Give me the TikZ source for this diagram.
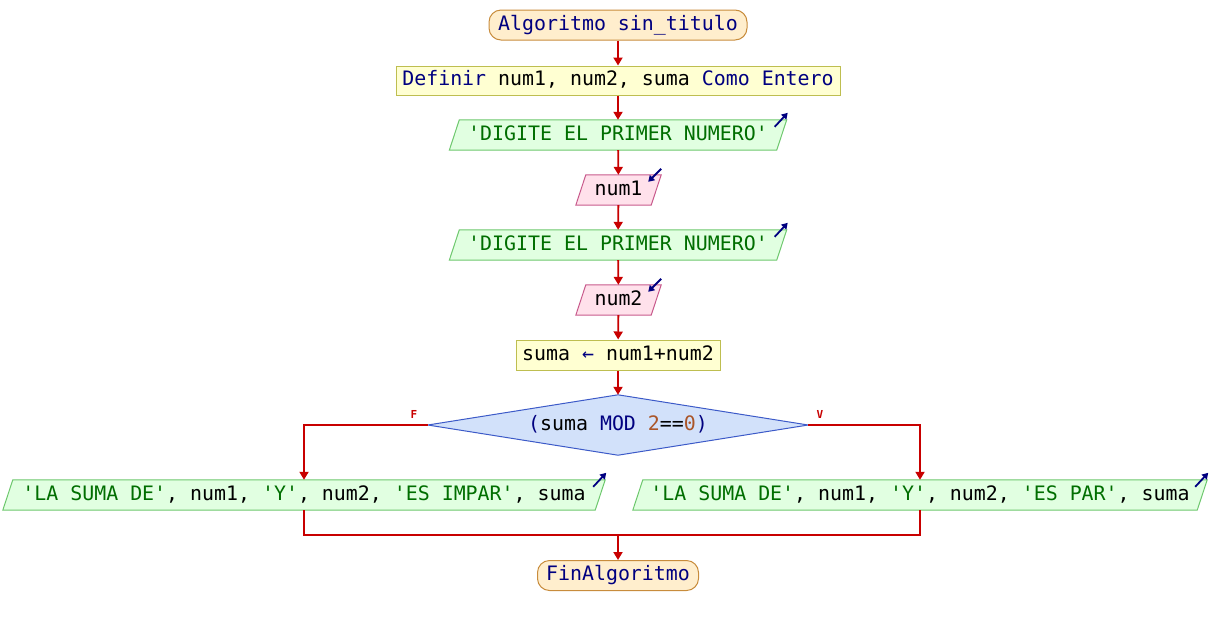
\documentclass[tikz,border=0pt]{standalone}
\usepackage{fontspec}
\setmonofont{DejaVu Sans Mono}
\usetikzlibrary{arrows.meta,calc}

\definecolor{kw}{RGB}{0,0,128}
\definecolor{str}{RGB}{0,110,0}
\definecolor{numc}{RGB}{170,85,40}
\definecolor{flow}{RGB}{200,0,0}
\definecolor{termF}{RGB}{255,238,205}
\definecolor{termD}{RGB}{200,140,60}
\definecolor{procF}{RGB}{255,255,210}
\definecolor{procD}{RGB}{190,190,80}
\definecolor{outF}{RGB}{225,255,225}
\definecolor{outD}{RGB}{110,200,110}
\definecolor{inF}{RGB}{255,225,235}
\definecolor{inD}{RGB}{200,90,140}
\definecolor{decF}{RGB}{210,225,250}
\definecolor{decD}{RGB}{60,90,200}

\tikzset{
  base/.style={font=\ttfamily\fontsize{19.9}{22}\selectfont, inner sep=0pt,
               text height=14pt, text depth=4pt},
  term/.style={base, draw=termD, fill=termF, line width=1pt,
               rounded corners=12pt, minimum height=30pt},
  proc/.style={base, draw=procD, fill=procF, line width=1pt, minimum height=29pt},
  slot/.style={base, minimum height=30pt},
  outshape/.style={draw=outD, fill=outF, line width=1pt},
  inshape/.style={draw=inD, fill=inF, line width=1pt},
  decshape/.style={draw=decD, fill=decF, line width=1pt},
  conn/.style={flow, line width=1.8pt, -{Triangle[width=9pt,length=8pt]}},
  wire/.style={flow, line width=1.8pt},
  icon/.style={kw, line width=1.8pt, -{Triangle[width=7pt,length=6pt]}},
  branch/.style={flow, font=\ttfamily\bfseries\fontsize{11}{12}\selectfont, inner sep=0pt},
}

% Parallelogram: #1 name, #2 centre, #3 outer width, #4 shape style, #5 text
\newcommand{\pslant}[5]{%
  \node[slot, minimum width=#3] (#1) at (#2) {};
  \draw[#4] ($(#1.north west)+(10,0)$) -- (#1.north east)
            -- ($(#1.south east)-(10,0)$) -- (#1.south west) -- cycle;
  \node[base] (#1-t) at (#1.center) {#5};
}
% Output marker: arrow leaving the top-right corner
\newcommand{\outmark}[1]{%
  \draw[icon] ($(#1.north east)+(-12,7)$) -- ($(#1.north east)+(1,-7)$);
}
% Input marker: arrow entering the top-right corner
\newcommand{\inmark}[1]{%
  \draw[icon] ($(#1.north east)+(0,-6)$) -- ($(#1.north east)+(-13,7)$);
}

\begin{document}
\begin{tikzpicture}[x=1pt, y=-1pt]
  \useasboundingbox (0,0) rectangle (1212,625);

  \node[term, minimum width=258] (start) at (618,25)
    {\textcolor{kw}{Algoritmo sin\_titulo}};
  \node[proc, minimum width=444] (def) at (618,80.5)
    {\textcolor{kw}{Definir} num1, num2, suma \textcolor{kw}{Como Entero}};

  \pslant{out1}{618,135}{337}{outshape}{\textcolor{str}{'DIGITE EL PRIMER NUMERO'}}
  \outmark{out1}
  \pslant{in1}{618.5,190}{85}{inshape}{num1}
  \inmark{in1}
  \pslant{out2}{618,245}{337}{outshape}{\textcolor{str}{'DIGITE EL PRIMER NUMERO'}}
  \outmark{out2}
  \pslant{in2}{618.5,300}{85}{inshape}{num2}
  \inmark{in2}

  \node[proc, minimum width=204, minimum height=30pt] (calc) at (618,355)
    {suma \textcolor{kw}{←} num1+num2};

  % decision
  \node[slot, minimum width=380, minimum height=60] (dec) at (618,425) {};
  \draw[decshape] (dec.north) -- (dec.east) -- (dec.south) -- (dec.west) -- cycle;
  \node[base] (dec-t) at (dec.center)
    {\textcolor{kw}{(}suma \textcolor{kw}{MOD} \textcolor{numc}{2}==\textcolor{numc}{0}\textcolor{kw}{)}};
  \node[branch] (lblF) at (414,414) {F};
  \node[branch] (lblV) at (820,414) {V};

  \pslant{outL}{304,495}{602}{outshape}{\textcolor{str}{'LA SUMA DE'}, num1, \textcolor{str}{'Y'}, num2, \textcolor{str}{'ES IMPAR'}, suma}
  \outmark{outL}
  \pslant{outR}{920,495}{574}{outshape}{\textcolor{str}{'LA SUMA DE'}, num1, \textcolor{str}{'Y'}, num2, \textcolor{str}{'ES PAR'}, suma}
  \outmark{outR}

  \node[term, minimum width=161] (fin) at (618,575.5) {\textcolor{kw}{FinAlgoritmo}};

  % connectors
  \draw[conn] (start) -- (def);
  \draw[conn] (def) -- (out1);
  \draw[conn] (out1) -- (in1);
  \draw[conn] (in1) -- (out2);
  \draw[conn] (out2) -- (in2);
  \draw[conn] (in2) -- (calc);
  \draw[conn] (calc) -- (dec.north);
  \draw[conn] (dec.west) -| (outL.north);
  \draw[conn] (dec.east) -| (outR.north);

  \coordinate (jL) at (304,535);
  \coordinate (jR) at (920,535);
  \coordinate (jM) at (618,535);
  \draw[wire] (outL.south) -- (jL) -- (jR) -- (outR.south);
  \draw[conn] (jM) -- (fin.north);
\end{tikzpicture}
\end{document}
